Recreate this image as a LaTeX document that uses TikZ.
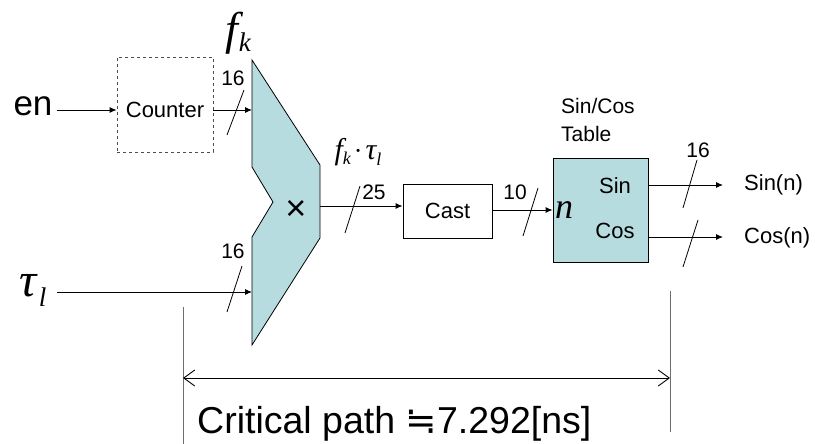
\documentclass[tikz,border=0pt]{standalone}
\usepackage{fontspec}
\setmainfont{Liberation Sans}
\newfontfamily\tms{Liberation Serif}
\newfontfamily\dvs{DejaVu Sans}
\usetikzlibrary{arrows.meta}
\definecolor{blk}{RGB}{183,220,224}
\definecolor{cpgray}{RGB}{110,110,110}
\newcommand{\fs}[1]{\fontsize{#1}{#1}\selectfont}
\tikzset{
  sig/.style={draw=black,line width=0.9pt,-{Latex[length=7pt,width=6pt]}},
  busmark/.style={draw=black,line width=0.8pt},
  buslbl/.style={inner sep=0pt,font=\fs{21}},
  lbl/.style={inner sep=0pt,font=\fs{22}},
  blockfill/.style={fill=blk,draw=black,line width=0.8pt},
  plainbox/.style={draw=black,line width=0.9pt,inner sep=0pt},
}
\begin{document}
\begin{tikzpicture}[x=1pt,y=-1pt]
\useasboundingbox (0,0) rectangle (815,444);
% multiplier
\draw[blockfill] (252,60) -- (320,165) -- (320,238) -- (252,345) -- (252,237) -- (273,202) -- (252,167) -- cycle;
\node[inner sep=0pt,font=\fs{36}] (mul) at (296,210) {×};
\coordinate (mulA) at (252,110);
\coordinate (mulB) at (252,292);
\coordinate (mulO) at (320,206);
% labels f_k and tau_l
\node[inner sep=0pt] (fk) at (238,33) {{\tms\itshape\fs{46}f}\kern1pt\raisebox{-7pt}{\tms\itshape\fs{27}k}};
\node[inner sep=0pt] (tl) at (33,290) {{\tms\itshape\fs{48}τ}\kern2pt\raisebox{-10pt}{\tms\itshape\fs{27}l}};
\coordinate (tlE) at (57,292);
\node[inner sep=0pt] (fktl) at (358,152) {{\tms\itshape\fs{30}f}\raisebox{-5pt}{\tms\itshape\fs{18}k}\kern3pt{\tms\fs{26}·}\kern3pt{\tms\itshape\fs{30}τ}\raisebox{-6pt}{\tms\itshape\fs{18}l}};
% en and counter
\node[inner sep=0pt,font=\fs{35}] (en) at (33,106) {en};
\node[draw=black!70,dashed,line width=0.8pt,minimum width=96pt,minimum height=95pt,inner sep=0pt] (cnt) at (165,104.5) {};
\node[lbl] (cnttxt) at (165,110) {Counter};
\draw[sig] (en.east |- 0,110) ++(4,0) -- (cnt.west |- 0,110);
\draw[sig] (cnt.east |- 0,110) -- (mulA);
\draw[busmark] (227,135) -- (244,90);
\node[buslbl] (b1) at (233,78) {16};
% tau input
\draw[sig] (tlE) -- (mulB);
\draw[busmark] (227,312) -- (242,266);
\node[buslbl] (b2) at (233,251) {16};
% cast
\node[plainbox,minimum width=89pt,minimum height=54pt] (cast) at (447.5,211) {};
\node[lbl] (casttxt) at (447.5,211) {Cast};
\draw[sig] (mulO) -- (cast.west |- mulO);
\draw[busmark] (345,233) -- (360,186);
\node[buslbl] (b3) at (374,192) {25};
% table
\node[blockfill,minimum width=95pt,minimum height=104pt,inner sep=0pt] (tbl) at (600.5,210) {};
\node[inner sep=0pt] (ntxt) at (564,210) {\tms\itshape\fs{36}n};
\node[lbl] (sintxt) at (615,186) {Sin};
\node[lbl] (costxt) at (615,231) {Cos};
\node[inner sep=0pt,align=left,anchor=west,font=\fontsize{21}{28}\selectfont] (tbltitle) at (561,120) {Sin/Cos\\Table};
\draw[sig] (cast.east |- 0,210) -- (tbl.west |- 0,210);
\draw[busmark] (523,236) -- (538,188);
\node[buslbl] (b4) at (515,192) {10};
% outputs
\coordinate (sinE) at (723,185);
\coordinate (cosE) at (723,237);
\draw[sig] (tbl.east |- sinE) -- (sinE);
\draw[sig] (tbl.east |- cosE) -- (cosE);
\node[lbl,anchor=west] (sinout) at (744,185) {Sin(n)};
\node[lbl,anchor=west] (cosout) at (744,238) {Cos(n)};
\draw[busmark] (683,208) -- (697,160);
\node[buslbl] (b5) at (698,150) {16};
\draw[busmark] (683,267) -- (698,220);
% critical path
\coordinate (cpL1) at (183,307);
\coordinate (cpL2) at (183,444);
\coordinate (cpR1) at (670,291);
\coordinate (cpR2) at (670,432);
\draw[cpgray,line width=1pt] (cpL1) -- (cpL2);
\draw[cpgray,line width=1pt] (cpR1) -- (cpR2);
\coordinate (cpA) at (183,378);
\coordinate (cpB) at (670,378);
\draw[line width=0.9pt,{Straight Barb[length=11pt,width=16pt]}-{Straight Barb[length=11pt,width=16pt]}] (cpA) -- (cpB);
\node[inner sep=0pt,anchor=base west,font=\fs{37.5}] (cptxt) at (197,433) {Critical path {\dvs ≒}7.292[ns]};
\end{tikzpicture}
\end{document}
